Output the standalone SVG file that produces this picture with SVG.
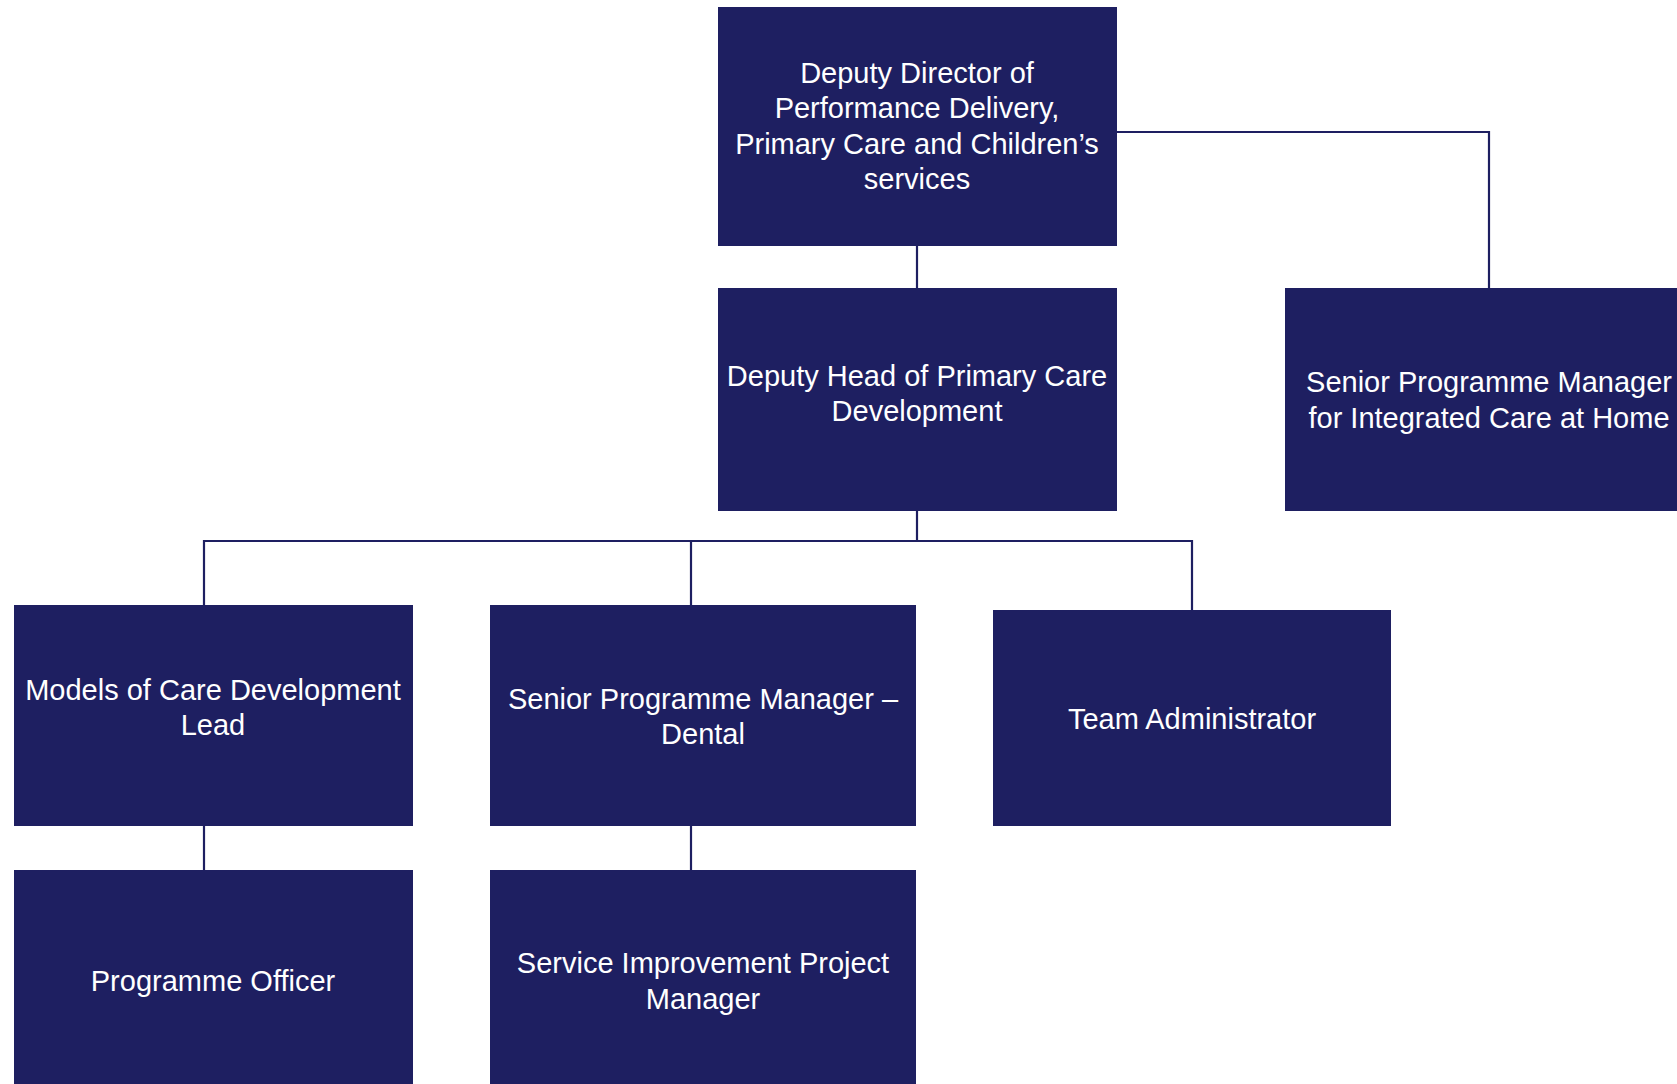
<svg xmlns="http://www.w3.org/2000/svg" width="1677" height="1084" viewBox="0 0 1677 1084">
<style>
.box{fill:#1E1F61}
.lbl{fill:#FFFFFF;font-family:"Liberation Sans",Arial,sans-serif;font-size:29px;text-anchor:middle}
.con{stroke:#1E1F61;stroke-width:2.2;fill:none}
</style>
<rect width="1677" height="1084" fill="#FFFFFF"/>
<g id="connectors">
<path class="con" d="M917 246V288"/>
<path class="con" d="M1117 132H1489V288"/>
<path class="con" d="M917 511V541"/>
<path class="con" d="M204 605V541H1192V610"/>
<path class="con" d="M691 541V605"/>
<path class="con" d="M204 826V870"/>
<path class="con" d="M691 826V870"/>
</g>
<g id="node-deputy-director">
<rect class="box" x="718" y="7" width="399" height="239"/>
<text class="lbl"><tspan x="917" y="83">Deputy Director of</tspan><tspan x="917" y="118">Performance Delivery,</tspan><tspan x="917" y="154">Primary Care and Children’s</tspan><tspan x="917" y="189">services</tspan></text>
</g>
<g id="node-deputy-head">
<rect class="box" x="718" y="288" width="399" height="223"/>
<text class="lbl"><tspan x="917" y="386">Deputy Head of Primary Care</tspan><tspan x="917" y="421">Development</tspan></text>
</g>
<g id="node-spm-ich">
<rect class="box" x="1285" y="288" width="420" height="223"/>
<text class="lbl"><tspan x="1489" y="392">Senior Programme Manager</tspan><tspan x="1489" y="428">for Integrated Care at Home</tspan></text>
</g>
<g id="node-models">
<rect class="box" x="14" y="605" width="399" height="221"/>
<text class="lbl"><tspan x="213" y="700">Models of Care Development</tspan><tspan x="213" y="735">Lead</tspan></text>
</g>
<g id="node-spm-dental">
<rect class="box" x="490" y="605" width="426" height="221"/>
<text class="lbl"><tspan x="703" y="709">Senior Programme Manager –</tspan><tspan x="703" y="744">Dental</tspan></text>
</g>
<g id="node-team-admin">
<rect class="box" x="993" y="610" width="398" height="216"/>
<text class="lbl" x="1192" y="729">Team Administrator</text>
</g>
<g id="node-programme-officer">
<rect class="box" x="14" y="870" width="399" height="230"/>
<text class="lbl" x="213" y="991">Programme Officer</text>
</g>
<g id="node-service-improvement">
<rect class="box" x="490" y="870" width="426" height="230"/>
<text class="lbl"><tspan x="703" y="973">Service Improvement Project</tspan><tspan x="703" y="1009">Manager</tspan></text>
</g>
</svg>
